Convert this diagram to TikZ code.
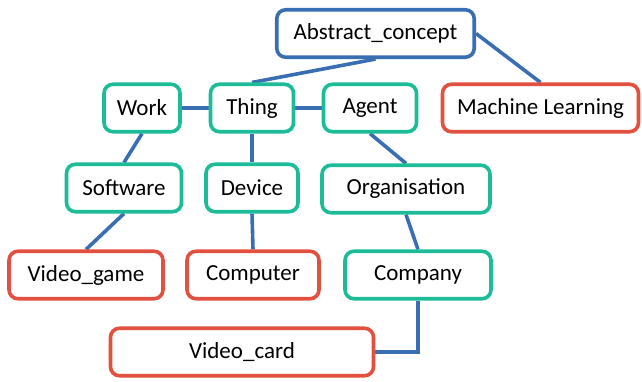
\documentclass[tikz,border=0pt]{standalone}
\usepackage{fontspec}
\setmainfont{Carlito}
\usetikzlibrary{backgrounds}
\definecolor{cblue}{RGB}{58,110,178}
\definecolor{cgreen}{RGB}{28,188,152}
\definecolor{cred}{RGB}{226,80,64}
\tikzset{
  box/.style={draw, line width=3.6pt, rounded corners=9pt, fill=white, inner sep=0pt,
    minimum height=47.5pt, font=\fontsize{23}{26}\selectfont},
  bluebox/.style={box, draw=cblue},
  greenbox/.style={box, draw=cgreen},
  redbox/.style={box, draw=cred},
  link/.style={draw=cblue, line width=3.6pt}
}
\begin{document}
\begin{tikzpicture}[x=1pt,y=-1pt]
\useasboundingbox (0,0) rectangle (642,381);
\node[bluebox, minimum width=197.5pt] (abs) at (375.5,33.5) {Abstract\_concept};
\node[redbox, minimum width=196pt] (ml) at (540.5,108) {Machine Learning};
\node[greenbox, minimum width=76pt] (work) at (142,108) {Work};
\node[greenbox, minimum width=83pt] (thing) at (252,108) {Thing};
\node[greenbox, minimum width=93pt] (agent) at (370,108) {Agent};
\node[greenbox, minimum width=115pt] (soft) at (124,188) {Software};
\node[greenbox, minimum width=92pt] (dev) at (252,188) {Device};
\node[greenbox, minimum width=168pt] (org) at (406,189) {Organisation};
\node[redbox, minimum width=154pt] (vg) at (86,275) {Video\_game};
\node[redbox, minimum width=132pt] (comp) at (253,275) {Computer};
\node[greenbox, minimum width=146pt] (cmp) at (418,275) {Company};
\node[redbox, minimum width=263pt] (vc) at (242,352) {Video\_card};
\begin{pgfonlayer}{background}
\draw[link] (abs.south) -- (thing.north);
\draw[link] (abs.east) -- (ml.north);
\draw[link] (work) -- (thing);
\draw[link] (thing) -- (agent);
\draw[link] (work.south) -- (soft.north);
\draw[link] (thing.south) -- (dev.north);
\draw[link] (agent.south) -- (org.north);
\draw[link] (soft.south) -- (vg.north);
\draw[link] (dev.south) -- (comp.north);
\draw[link] (org.south) -- (cmp.north);
\draw[link] (cmp.south) |- (vc.east);
\end{pgfonlayer}
\end{tikzpicture}
\end{document}
